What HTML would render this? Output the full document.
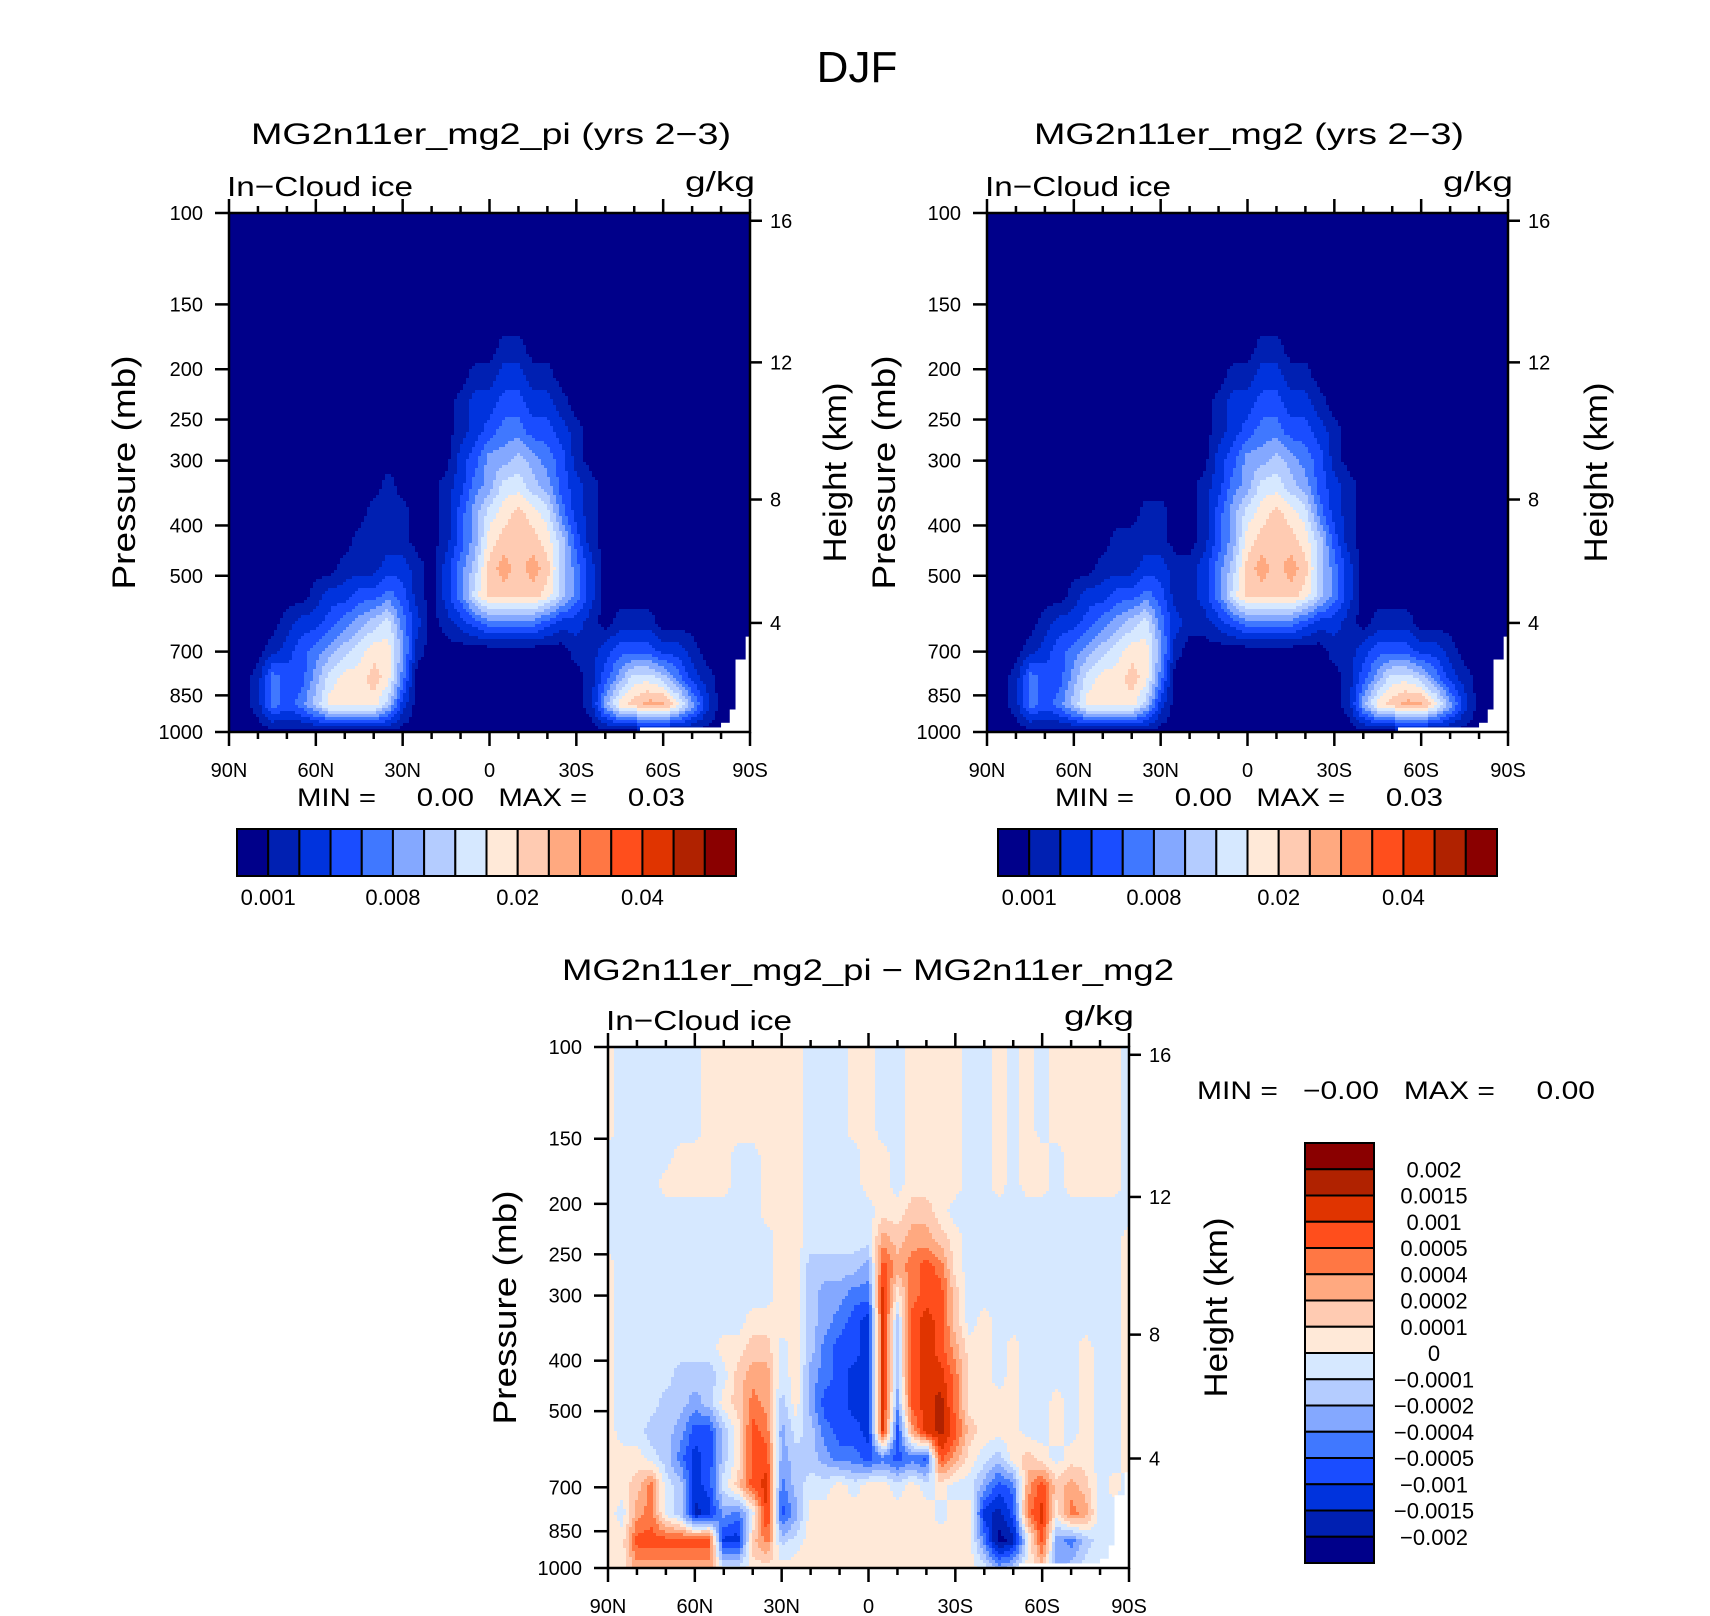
<!DOCTYPE html>
<html><head><meta charset="utf-8"><title>DJF In-Cloud ice</title>
<style>
html,body{margin:0;padding:0;background:#fff;}
svg{display:block;font-family:"Liberation Sans",sans-serif;}
text{fill:#000;}
</style></head>
<body>
<svg id="fig" xmlns="http://www.w3.org/2000/svg" width="1710" height="1616" viewBox="0 0 1710 1616">
<rect x="0" y="0" width="1710" height="1616" fill="#fff"/>
<text x="857" y="82" font-size="44" text-anchor="middle">DJF</text>

<text x="251" y="144" font-size="30" textLength="480" lengthAdjust="spacingAndGlyphs">MG2n11er_mg2_pi (yrs 2−3)</text>
<text x="1034" y="144" font-size="30" textLength="430" lengthAdjust="spacingAndGlyphs">MG2n11er_mg2 (yrs 2−3)</text>
<text x="562" y="980" font-size="30" textLength="612" lengthAdjust="spacingAndGlyphs">MG2n11er_mg2_pi − MG2n11er_mg2</text>

<g id="pTL"></g>
<g id="pTR"></g>
<g id="pB"></g>

<text x="297" y="806" font-size="25" textLength="388" lengthAdjust="spacingAndGlyphs" xml:space="preserve">MIN =     0.00   MAX =     0.03</text>
<text x="1055" y="806" font-size="25" textLength="388" lengthAdjust="spacingAndGlyphs" xml:space="preserve">MIN =     0.00   MAX =     0.03</text>
<text x="1197" y="1099" font-size="25" textLength="398" lengthAdjust="spacingAndGlyphs" xml:space="preserve">MIN =   −0.00   MAX =     0.00</text>

<g id="cbTL"></g>
<g id="cbTR"></g>
<g id="cbB"></g>
</svg>
<script>
const palette=["#00008a","#0020b2","#0033dd","#1a4dff","#4078ff","#84a8ff","#b4ccff","#d6e8ff","#ffe9d8","#ffcbb2","#ffa980","#ff7744","#ff4e1c","#e03400","#b02200","#8a0000"];
const latGrid=[90,85,80,75,70,65,60,55,50,45,40,35,30,25,20,15,10,5,0,-5,-10,-15,-20,-25,-30,-35,-40,-45,-50,-55,-60,-65,-70,-75,-80,-85,-90];
const pLevels=[100,113,129,144,162,183,207,234,264,298,336,379,428,483,546,616,695,785,886,1000];
const Z="0000000000000000000000000000000000000";
const fieldPi=[Z,Z,Z,Z,Z,
"0000000000000000000110000000000000000",
"0000000000000000011221100000000000000",
"0000000000000000122332210000000000000",
"0000000000000000123443321000000000000",
"0000000000000000235565431000000000000",
"0000000000010001245776532100000000000",
"0000000000111001357898742100000000000",
"0000000001111001358999863100000000000",
"0000000011122102469a9a964200000000000",
"0000001223343102479999864200000000000",
"0000122345674201234444322101110000000",
"0001234567885100000000001123332210000",
"0014335788984000000000000135776421000",
"0014346888862000000000000158 9aa852000".replace(" ",""),
Z];
const fieldCtl=[Z,Z,Z,Z,Z,
"0000000000000000000110000000000000000",
"0000000000000000011221100000000000000",
"0000000000000000122332210000000000000",
"0000000000000000123443321000000000000",
"0000000000000000235565431000000000000",
"0000000000000001245776532100000000000",
"0000000000011001357898742100000000000",
"0000000001111001358999863100000000000",
"0000000011122112469a9a964200000000000",
"0000001223343112479999864200000000000",
"0000122345674211234444322101110000000",
"0001234567885100000000001123332210000",
"0014335788984000000000000135776421000",
"00143468888620000000000001589aa852000",
Z];
const fieldDiff=[
"8777777"+"8888888"+"777"+"88"+"77"+"8888"+"77"+"8"+"7"+"8"+"7"+"88888"+"7",
"8777777"+"8888888"+"777"+"88"+"77"+"8888"+"77"+"8"+"7"+"8"+"7"+"88888"+"7",
"8777777"+"8888888"+"777"+"88"+"77"+"8888"+"77"+"8"+"7"+"8"+"7"+"88888"+"7",
"8777777"+"8888888"+"777"+"88"+"77"+"8888"+"77"+"8"+"7"+"8"+"7"+"88888"+"7",
"77777"+"8888"+"77"+"888"+"7777"+"88"+"7"+"8888"+"77"+"8"+"7"+"88"+"7"+"8888"+"7",
"7777"+"88888"+"77"+"888"+"7777"+"88"+"7"+"8888"+"77"+"8"+"7"+"88"+"7"+"8888"+"7",
"77777777777"+"888"+"77777"+"88998"+"7777777777777",
"7"+"7777777777"+"788"+"77777"+"a9aa98"+"77777777777"+"8",
"8"+"7777777777"+"788"+"66665"+"cabcb8"+"77777777777"+"8",
"8"+"7777777777"+"788"+"65544"+"d8bcc9"+"77777777777"+"8",
"8"+"777777777"+"8888"+"65432"+"d6cdc9"+"7"+"8"+"777777777"+"8",
"8"+"7777777"+"889978"+"64332"+"d6cdca"+"88"+"7877778778",
"8"+"777"+"7666"+"79aa78"+"54322"+"d6cddb"+"88"+"7877778778",
"8"+"777"+"6656"+"89ba68"+"53322"+"d5cdeb"+"88"+"8877878778",
"8"+"776"+"6533"+"68cb57"+"64332"+"d3adec"+"98"+"8877878778",
"8887"+"6423"+"68cc56"+"65443"+"4343ca"+"87"+"6898788778",
"889b"+"7623"+"79cd46"+"77878"+"878787"+"75"+"34ac9a9787",
"87ab"+"7612"+"547d35"+"88888"+"888878"+"82"+"13bd8ba777",
"88"+"cccccc"+"22"+"9b67"+"888888888888"+"4"+"0"+"1"+"7"+"c"+"5"+"4"+"6"+"777",
"88"+"aaaaaa"+"77"+"8888"+"888888888888"+"7568956"+"7777"];
const latMajor=[90,60,30,0,-30,-60,-90];
const latLabels=["90N","60N","30N","0","30S","60S","90S"];
const latMinor=[80,70,50,40,20,10,-10,-20,-40,-50,-70,-80];
const pTicks=[100,150,200,250,300,400,500,700,850,1000];
const hTickP=[616.4,356.5,194.0,103.5];
const hTickLabels=["4","8","12","16"];
const surfLat=[-52,-80,-83,-85,-88.5];
const surfP=[980,960,905,725,655];
const cbTopLabels=["0.001","0.008","0.02","0.04"];
const cbTopLabelIdx=[1,5,9,13];
const cbDiffLabels=["0.002","0.0015","0.001","0.0005","0.0004","0.0002","0.0001","0","−0.0001","−0.0002","−0.0004","−0.0005","−0.001","−0.0015","−0.002"];

const NS="http://www.w3.org/2000/svg";
function mk(tag,attrs,parent){const e=document.createElementNS(NS,tag);for(const k in attrs)e.setAttribute(k,attrs[k]);parent.appendChild(e);return e;}

function drawPanel(gid,field,x0,y0,w,h,pName,hName){
  const g=document.getElementById(gid);
  const xS=lat=>x0+(90-lat)/180*w;
  const yS=p=>y0+Math.log10(p/100)*h;
  const nc=latGrid.length,nr=pLevels.length;
  const vals=field.map(s=>{const a=[];for(let j=0;j<nc;j++){const ch=j<s.length?s[j]:s[s.length-1];a.push(parseInt(ch,16));}return a;});
  const cells=mk('g',{'shape-rendering':'crispEdges'},g);
  
  
  const step=3;
  for(let py=0;py<h;py+=step){
    const yc=y0+py+step/2;
    const p=100*Math.pow(10,(yc-y0)/h);
    let i=0;while(i<nr-2&&pLevels[i+1]<p)i++;
    let fy=(Math.log10(p)-Math.log10(pLevels[i]))/(Math.log10(pLevels[i+1])-Math.log10(pLevels[i]));
    fy=Math.max(0,Math.min(1,fy));
    let runStart=x0,runLev=-1;
    const hh=Math.min(step,h-py);
    const flush=(xe)=>{ if(runLev<0)return;
      const r=mk('rect',{x:runStart.toFixed(1),y:(y0+py).toFixed(1),width:(xe-runStart+0.6).toFixed(1),height:(hh+0.6).toFixed(1),fill:palette[runLev]},cells);
      
      
    };
    for(let px=0;px<w;px+=step){
      const xc=x0+px+step/2;
      const lat=90-(xc-x0)/w*180;
      let j=0;while(j<nc-2&&latGrid[j+1]>lat)j++;
      let fx=(latGrid[j]-lat)/(latGrid[j]-latGrid[j+1]);fx=Math.max(0,Math.min(1,fx));
      const v=(1-fy)*((1-fx)*vals[i][j]+fx*vals[i][j+1])+fy*((1-fx)*vals[i+1][j]+fx*vals[i+1][j+1]);
      const lev=Math.max(0,Math.min(15,Math.round(v)));
      if(lev!==runLev){flush(x0+px);runStart=x0+px;runLev=lev;}
    }
    flush(x0+w);
  }
  // missing-data mask below surface
  for(let k=0;k<surfLat.length;k++){
    const m=mk('rect',{x:xS(surfLat[k]),y:yS(surfP[k]),width:xS(-90)-xS(surfLat[k]),height:yS(1000)-yS(surfP[k]),fill:'#fff'},g);
    
    
  }
  const fr=mk('rect',{x:x0,y:y0,width:w,height:h,fill:'none',stroke:'#000','stroke-width':2.5},g);
  
  
  const ax=mk('g',{stroke:'#000','stroke-width':2.5},g);
  
  
  latMajor.forEach((lat,k)=>{
    const x=xS(lat);
    mk('line',{x1:x,y1:y0+h,x2:x,y2:y0+h+14},ax);
    mk('line',{x1:x,y1:y0,x2:x,y2:y0-14},ax);
    const t=mk('text',{x:x,y:y0+h+45,'font-size':20,'text-anchor':'middle',stroke:'none'},g);
    t.textContent=latLabels[k];
    
    
  });
  latMinor.forEach(lat=>{
    const x=xS(lat);
    mk('line',{x1:x,y1:y0+h,x2:x,y2:y0+h+7},ax);
    mk('line',{x1:x,y1:y0,x2:x,y2:y0-7},ax);
  });
  pTicks.forEach(p=>{
    const y=yS(p);
    mk('line',{x1:x0,y1:y,x2:x0-14,y2:y},ax);
    const t=mk('text',{x:x0-26,y:y+7,'font-size':20,'text-anchor':'end'},g);
    t.textContent=String(p);
    
    
  });
  hTickP.forEach((p,k)=>{
    const y=yS(p);
    mk('line',{x1:x0+w,y1:y,x2:x0+w+12,y2:y},ax);
    const t=mk('text',{x:x0+w+20,y:y+7,'font-size':20},g);
    t.textContent=hTickLabels[k];
    
    
  });
  const t1=mk('text',{x:x0-2,y:y0-17,'font-size':28,textLength:186,lengthAdjust:'spacingAndGlyphs'},g);
  t1.textContent='In−Cloud ice';
  
  
  const t2=mk('text',{x:x0+w+5,y:y0-22,'font-size':28,'text-anchor':'end',textLength:70,lengthAdjust:'spacingAndGlyphs'},g);
  t2.textContent='g/kg';
  
  
  const cy=y0+h/2;
  const t3=mk('text',{x:0,y:0,'font-size':32,'text-anchor':'middle',textLength:234,lengthAdjust:'spacingAndGlyphs',transform:`translate(${pName},${cy}) rotate(-90)`},g);
  t3.textContent='Pressure (mb)';
  
  
  const t4=mk('text',{x:0,y:0,'font-size':32,'text-anchor':'middle',textLength:180,lengthAdjust:'spacingAndGlyphs',transform:`translate(${hName},${cy}) rotate(-90)`},g);
  t4.textContent='Height (km)';
  
  
}

function drawHBar(gid,x0,y0,w,h){
  const g=document.getElementById(gid);
  const bw=w/palette.length;
  palette.forEach((c,k)=>{
    const r=mk('rect',{x:x0+k*bw,y:y0,width:bw,height:h,fill:c,stroke:'#000','stroke-width':2},g);
    
    
  });
  cbTopLabels.forEach((s,k)=>{
    const t=mk('text',{x:x0+cbTopLabelIdx[k]*bw,y:y0+h+29,'font-size':22,'text-anchor':'middle'},g);
    t.textContent=s;
    
    
  });
}
function drawVBar(gid,x0,y0,w,h){
  const g=document.getElementById(gid);
  const n=palette.length,bh=h/n;
  for(let k=0;k<n;k++){
    const r=mk('rect',{x:x0,y:y0+k*bh,width:w,height:bh,fill:palette[n-1-k],stroke:'#000','stroke-width':2},g);
    
    
  }
  cbDiffLabels.forEach((s,k)=>{
    const t=mk('text',{x:x0+w+60,y:y0+(k+1)*bh+8,'font-size':22,'text-anchor':'middle'},g);
    t.textContent=s;
    
    
  });
}

drawPanel('pTL',fieldPi,229,213,521,519,135,846);
drawPanel('pTR',fieldCtl,987,213,521,519,895,1607);
drawPanel('pB',fieldDiff,608,1047,521,521,516,1227);
drawHBar('cbTL',237,829,499,47);
drawHBar('cbTR',998,829,499,47);
drawVBar('cbB',1305,1143,69,420);
</script>
</body></html>
